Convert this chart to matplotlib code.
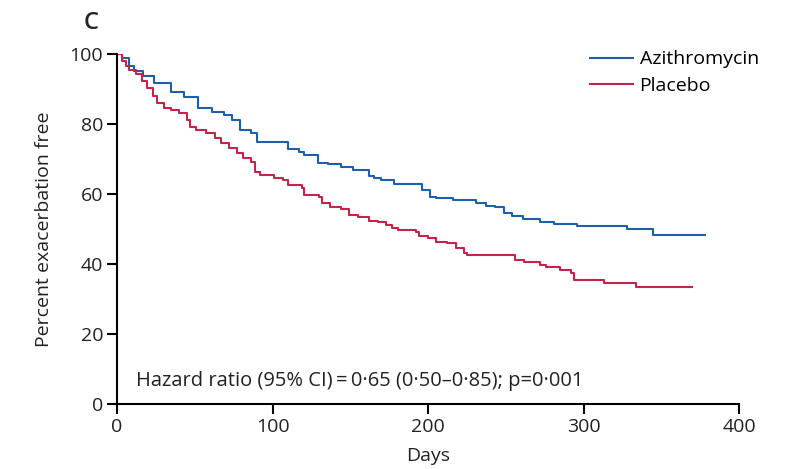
import matplotlib
matplotlib.use("Agg")
import matplotlib.pyplot as plt

# Kaplan-Meier steps (day, percent exacerbation free)
azi_days = [0, 3, 8, 11, 17, 24, 35, 43, 52, 61, 69, 74, 79, 86, 90, 110, 117, 120,
            129, 136, 144, 152, 162, 165, 170, 178, 196, 201, 205, 216, 231, 237, 243,
            249, 254, 261, 272, 281, 296, 328, 345, 378]
azi_pct = [100, 98.9, 96.7, 95.2, 93.8, 91.8, 89.0, 87.6, 84.7, 83.3, 82.5, 81.0, 78.2,
           77.3, 74.8, 72.8, 71.9, 71.1, 68.8, 68.5, 67.7, 66.8, 65.1, 64.5, 64.0, 62.8,
           61.1, 59.1, 58.9, 58.3, 57.4, 56.7, 56.3, 54.6, 53.8, 52.9, 52.0, 51.5, 50.9,
           50.0, 48.3, 48.3]

pla_days = [0, 3, 6, 8, 12, 16, 19, 23, 26, 30, 35, 40, 45, 47, 51, 57, 63, 67, 72, 77,
            81, 86, 89, 92, 101, 107, 110, 119, 120, 130, 132, 137, 144, 149, 155, 162,
            168, 173, 177, 181, 192, 194, 200, 205, 212, 218, 223, 225, 256, 262, 272,
            276, 285, 292, 294, 313, 334, 370]
pla_pct = [100, 98.1, 96.7, 95.3, 94.4, 92.4, 90.4, 88.1, 86.1, 84.7, 83.9, 83.0, 81.0,
           79.0, 78.2, 77.3, 75.9, 74.5, 73.1, 71.7, 70.2, 69.1, 66.2, 65.4, 64.5, 64.0,
           62.6, 61.7, 59.7, 59.1, 57.4, 56.3, 55.7, 54.0, 53.5, 52.3, 52.0, 51.2, 50.3,
           49.8, 49.2, 48.1, 47.5, 46.3, 46.1, 44.6, 43.2, 42.7, 41.2, 40.7, 39.8, 39.0,
           38.4, 37.5, 35.5, 34.7, 33.3, 33.3]

x_ticks = [0, 100, 200, 300, 400]
y_ticks = [0, 20, 40, 60, 80, 100]

BLUE = '#1f5fa6'
RED = '#c1254b'
TXT = '#222222'
FS = 14

plt.rcParams['font.family'] = ['Open Sans', 'DejaVu Sans']

fig = plt.figure(figsize=(7.85, 4.69), dpi=100)
ax = fig.add_axes([117/785, 1-404/469, (739-117)/785, (404-54)/469])

ax.step(azi_days, azi_pct, where='post', color=BLUE, lw=1.5, label='Azithromycin')
ax.step(pla_days, pla_pct, where='post', color=RED, lw=1.5, label='Placebo')

ax.set_xlim(0, 400)
ax.set_ylim(0, 100)
ax.set_xticks(x_ticks)
ax.set_yticks(y_ticks)
ax.tick_params(direction='out', length=7, width=1.5, labelsize=FS, pad=3,
               colors='black', labelcolor=TXT)
for s in ['top', 'right']:
    ax.spines[s].set_visible(False)
for s in ['left', 'bottom']:
    ax.spines[s].set_linewidth(1.5)

ax.set_xlabel('Days', fontsize=FS, labelpad=8, color=TXT)
ax.set_ylabel('Percent exacerbation free', fontsize=FS, labelpad=12, color=TXT)

ax.text(12, 5.2, 'Hazard ratio (95% CI)\u2009=\u20090\u00b765 (0\u00b750\u20130\u00b785); p=0\u00b7001',
        fontsize=14.5, color=TXT)

ax.legend(loc='upper right', bbox_to_anchor=(1.06, 1.06), frameon=False, fontsize=FS,
          handlelength=2.2, handletextpad=0.35, labelspacing=0.45)

fig.text(84/785, 1-29/469, 'C', fontsize=17, fontweight='semibold', color=TXT)

fig.savefig('out.png', dpi=100)
